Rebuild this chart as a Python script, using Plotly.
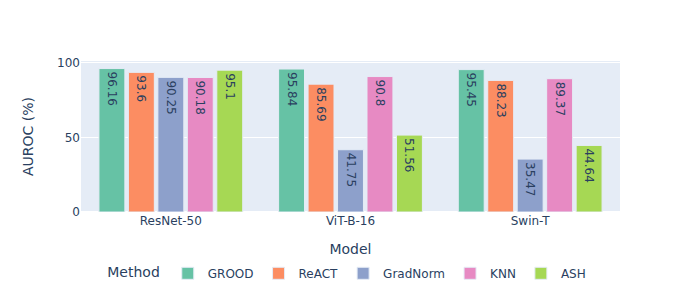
import plotly.graph_objects as go

models = ["ResNet-50", "ViT-B-16", "Swin-T"]
methods = ["GROOD", "ReACT", "GradNorm", "KNN", "ASH"]
grood = [96.16, 95.84, 95.45]
react = [93.6, 85.69, 88.23]
gradnorm = [90.25, 41.75, 35.47]
knn = [90.18, 90.8, 89.37]
ash = [95.1, 51.56, 44.64]
colors = ["#66c2a5", "#fc8d62", "#8da0cb", "#e78ac3", "#a6d854"]

series = [grood, react, gradnorm, knn, ash]
fig = go.Figure()
for name, vals, c in zip(methods, series, colors):
    fig.add_trace(go.Bar(
        x=models, y=vals, name=name, marker_color=c,
        text=[str(v) for v in vals], textposition="inside", textangle=90,
        textfont=dict(color="#2a3f5f", size=12),
        marker_line=dict(color="#E5ECF6", width=1),
    ))

fig.update_layout(
    template="plotly",
    width=700, height=300,
    font=dict(family="DejaVu Sans", size=12),
    margin=dict(l=73, r=88, t=53, b=96, autoexpand=False),
    barmode="group", bargap=0.18, bargroupgap=0.12,
    xaxis=dict(title=dict(text="Model", standoff=17), automargin=False),
    yaxis=dict(title=dict(text="AUROC (%)", standoff=20), automargin=False),
    legend=dict(orientation="h", x=0.045, xanchor="left", y=-0.31, yanchor="top",
                font=dict(size=12),
                title=dict(text="Method", font=dict(size=14))),
    uniformtext=dict(minsize=12, mode="show"),
)
fig.write_html("out.html")
